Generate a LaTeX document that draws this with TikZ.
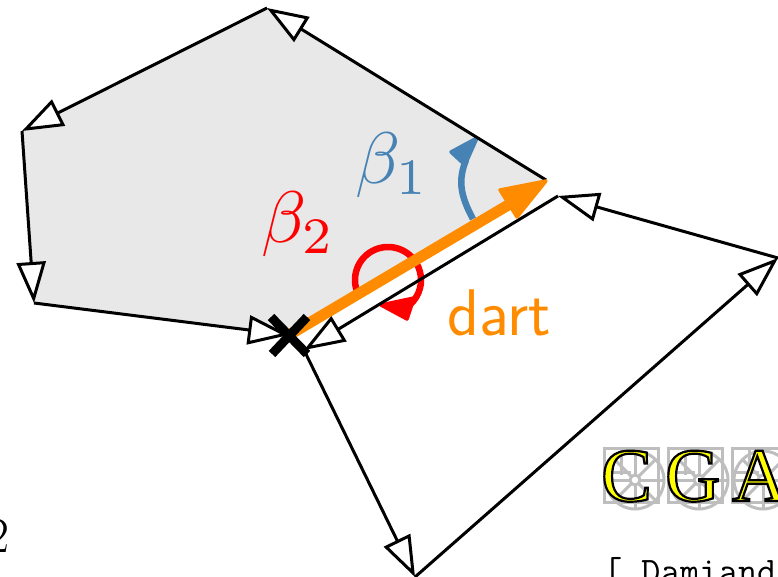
\documentclass[tikz,border=0pt]{standalone}
\usepackage{fontspec}
\usetikzlibrary{arrows.meta}
\newfontfamily\logofont{Liberation Serif}
\definecolor{facegray}{HTML}{E8E8E8}
\definecolor{dartorange}{HTML}{FF8C00}
\definecolor{betablue}{HTML}{4682B4}
\definecolor{logogray}{HTML}{BEBEBE}
\newcommand{\outlined}[1]{\special{pdf:code q 2 Tr 2.2 w 0 0 0 RG 1 1 0 rg}#1\special{pdf:code Q 0 Tr}}
\tikzset{
  edge/.style={line width=3pt,draw=black,line join=miter,
    -{Triangle[length=41pt,width=29pt,open,fill=white,line width=3pt]}},
  headfill/.style={line width=3.5pt,line join=round},
  logobit/.style={draw=logogray,line width=3pt},
  lab/.style={inner sep=0pt,anchor=base west},
  wheelmark/.pic={
    \draw[logobit] (-31,-32) rectangle (23,22);
    \draw[logobit] (0,0) circle (29);
    \draw[logobit] (0,0) circle (5);
    \foreach \a in {0,45,...,315} \draw[logobit] (\a:5) -- (\a:29);
    \draw[logobit] (-31,-8) -- (-4,-8) (-14,-32) -- (-14,-5);
  }
}
\begin{document}
\begin{tikzpicture}[x=1pt,y=-1pt]
\useasboundingbox (0,0) rectangle (778,577);
\clip (0,0) rectangle (778,577);
\coordinate (A) at (267,8);
\coordinate (B) at (22,131);
\coordinate (C) at (34,303);
\coordinate (X) at (289,335);
\coordinate (E) at (546,180);
\coordinate (F) at (558,196);
\coordinate (G) at (778,258);
\coordinate (H) at (415,577);
\coordinate (I) at (304,350);
\fill[facegray] (A) -- (B) -- (C) -- (X) -- (E) -- cycle;
% beta arcs
\coordinate (b1s) at (473,219);
\coordinate (b1e) at (466,160);
\draw[betablue,line width=6.5pt] (b1s) .. controls (460,195) and (458,180) .. (b1e);
\fill[betablue,draw=betablue,headfill] (451,152) -- (477,138) -- (465,165) -- cycle;
\coordinate (rc) at (388,280);
\draw[red,line width=6.5pt] (rc) ++(150:33) arc[start angle=150,end angle=430,radius=33];
\fill[red,draw=red,headfill] (381,305) -- (414,298) -- (407,319) -- cycle;
% edges
\draw[edge] (E) -- (A);
\draw[edge] (A) -- (B);
\draw[edge] (B) -- (C);
\draw[edge] (C) -- (X);
\draw[edge] (G) -- (F);
\draw[edge] (F) -- (I);
\draw[edge] (I) -- (H);
\draw[edge] (H) -- (G);
% dart
\draw[dartorange,line width=11pt] (X) -- (515,201);
\fill[dartorange,draw=dartorange,headfill] (500,190) -- (546,181) -- (517,217) -- cycle;
\draw[black,line width=9pt] (271,317) -- (307,354) (272,354) -- (307,317);
% labels
\node[lab,betablue] (b1) at (355,184) {\scalebox{7.3}{$\beta_1$}};
\node[lab,red] (b2) at (261,243) {\scalebox{7.3}{$\beta_2$}};
\node[lab,dartorange,font=\fontsize{66}{66}\sffamily\selectfont] (dart) at (447,335) {dart};
\node[lab,font=\fontsize{50}{50}\selectfont] (two) at (-14,552) {2};
% logo
\pic at (635,480) {wheelmark};
\pic at (699,480) {wheelmark};
\pic at (763,480) {wheelmark};
\node[lab,font=\fontsize{76}{76}\logofont] (lc) at (601,501) {\outlined{C}};
\node[lab,font=\fontsize{76}{76}\logofont] (lg) at (665,501) {\outlined{G}};
\node[lab,font=\fontsize{76}{76}\logofont] (la) at (732,501) {\outlined{A}};
\node[lab,font=\fontsize{37.5}{37.5}\ttfamily] (ref) at (603,583) {[ Damiand};
\end{tikzpicture}
\end{document}
